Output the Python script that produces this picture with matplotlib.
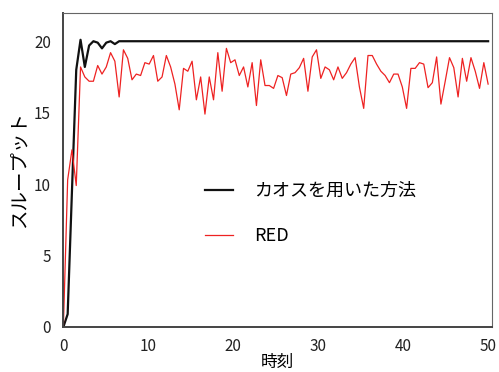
import numpy as np
import matplotlib
matplotlib.use("Agg")
import matplotlib.pyplot as plt

plt.rcParams["font.family"] = ["Noto Sans CJK JP", "DejaVu Sans"]

# time grid: 100 samples between 0 and 50
time = np.linspace(0, 50, 100)

chaos = [0.0, 0.9, 9.5, 18.0, 20.1, 18.2, 19.7, 20.0, 19.9, 19.5,
         19.9, 20.0, 19.8, 20.0] + [20.0] * 86

red = [0.0, 10.3, 12.4, 9.9, 18.2, 17.5, 17.2, 17.2, 18.3, 17.7,
       18.2, 19.2, 18.6, 16.1, 19.4, 18.8, 17.3, 17.7, 17.6, 18.5,
       18.4, 19.0, 17.2, 17.5, 19.0, 18.2, 17.0, 15.2, 18.1, 17.9,
       18.6, 15.9, 17.5, 14.9, 17.5, 15.9, 19.2, 16.5, 19.5, 18.5,
       18.7, 17.6, 18.2, 16.8, 18.5, 15.5, 18.7, 16.9, 16.9, 16.7,
       17.6, 17.45, 16.2, 17.7, 17.8, 18.15, 18.8, 16.5, 18.9, 19.4,
       17.4, 18.2, 18.0, 17.3, 18.2, 17.4, 17.8, 18.4, 18.85, 16.8,
       15.3, 19.0, 19.0, 18.4, 17.9, 17.6, 17.1, 17.7, 17.7, 16.8,
       15.3, 18.1, 18.1, 18.5, 18.4, 16.75, 17.1, 18.9, 15.6, 17.2,
       18.85, 18.15, 16.1, 18.8, 17.2, 18.85, 17.9, 16.7, 18.5, 17.0]

labels = ["カオスを用いた方法", "RED"]

fig = plt.figure(figsize=(4.99, 3.72), dpi=100)
ax = fig.add_axes([0.127, 0.121, 0.858, 0.845])

ax.plot(time, chaos, color="#111111", linewidth=1.6, label=labels[0])
ax.plot(time, red, color="#ee2222", linewidth=0.9, label=labels[1])

ax.set_xlim(0, 50.4)
ax.set_ylim(0, 22)
ax.set_xticks([0, 10, 20, 30, 40, 50])
ax.set_yticks([0, 5, 10, 15, 20])
ax.tick_params(length=0, labelsize=11, colors="#222222")
ax.tick_params(axis="y", pad=9)
ax.tick_params(axis="x", pad=8)

for side in ["left", "bottom"]:
    ax.spines[side].set_linewidth(1.4)
    ax.spines[side].set_color("#444444")
for side in ["top", "right"]:
    ax.spines[side].set_linewidth(0.8)
    ax.spines[side].set_color("#666666")

ax.set_xlabel("時刻", fontsize=12, labelpad=-1)
ax.set_ylabel("スループット", fontsize=14, labelpad=3)

ax.legend(loc="center left", bbox_to_anchor=(0.33, 0.361), frameon=False,
          fontsize=13, borderpad=0, borderaxespad=0, handlelength=1.55,
          handletextpad=1.2, labelspacing=1.5)

fig.savefig("out.png", dpi=100)
